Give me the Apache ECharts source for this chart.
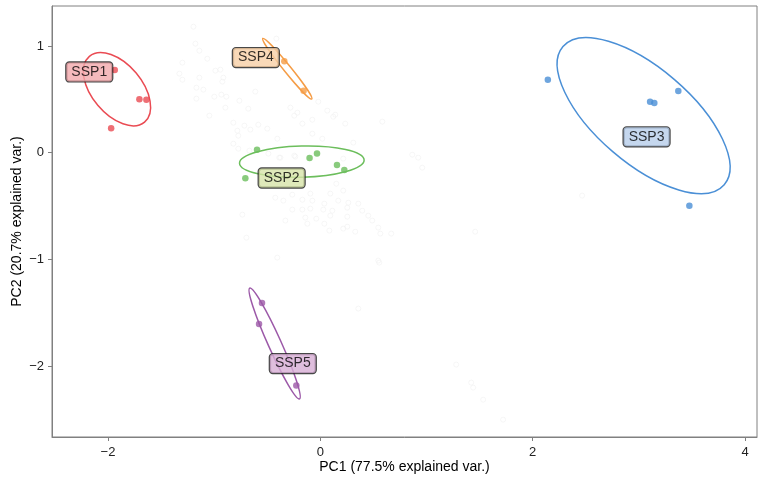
<!DOCTYPE html>
<html>
<head>
<meta charset="utf-8">
<script src="https://cdn.jsdelivr.net/npm/echarts@6/dist/echarts.min.js"></script>
<style>
  html, body { margin: 0; padding: 0; background: #fff; }
  #chart { width: 758px; height: 477px; }
</style>
</head>
<body>
<div id="chart"></div>
<script>
// PCA scores by scenario group (PC1, PC2)
var groups = ['SSP1', 'SSP2', 'SSP3', 'SSP4', 'SSP5'];
var pointColors = ['#ea4b53', '#6cbe5c', '#4a8fd6', '#f59c45', '#9c59a8'];
var labelFills = ['#f2a9ac', '#d7e4a9', '#b6cdea', '#f7cfa6', '#d7aed5'];

var ssp1 = [[-1.936, 0.775], [-1.704, 0.500], [-1.638, 0.497], [-1.970, 0.228]];
var ssp2 = [[-0.596, 0.028], [-0.101, -0.050], [-0.031, -0.007], [0.157, -0.115], [0.226, -0.162], [-0.706, -0.241]];
var ssp3 = [[2.143, 0.684], [3.372, 0.578], [3.106, 0.478], [3.146, 0.466], [3.476, -0.497]];
var ssp4 = [[-0.339, 0.856], [-0.157, 0.581]];
var ssp5 = [[-0.549, -1.409], [-0.577, -1.606], [-0.226, -2.184]];
var groupPoints = [ssp1, ssp2, ssp3, ssp4, ssp5];

// Normal-probability ellipses: centre x, centre y, semi-major, semi-minor, angle (deg)
var ellipses = [
  [-1.915, 0.595, 0.404, 0.235, -50],
  [-0.174, -0.084, 0.587, 0.146, 1.5],
  [3.045, 0.347, 1.000, 0.445, -40.6],
  [-0.311, 0.787, 0.367, 0.033, -51],
  [-0.430, -1.789, 0.572, 0.061, -65.8]
];

// Group label anchors
var labelPos = [[-2.176, 0.757], [-0.364, -0.237], [3.073, 0.148], [-0.607, 0.891], [-0.259, -1.978]];

// Remaining (ungrouped) observations, drawn faintly
var others = [
  [-1.195, 1.181], [-1.176, 1.022], [-1.139, 0.956], [-1.064, 0.881], [-1.299, 0.844],
  [-0.988, 0.769], [-0.941, 0.778], [-1.327, 0.741], [-1.299, 0.684], [-1.139, 0.703],
  [-0.913, 0.703], [-0.922, 0.666], [-1.167, 0.609], [-1.101, 0.591], [-0.612, 0.572],
  [-0.414, 1.069], [-0.998, 0.525], [-0.932, 0.544], [-0.885, 0.525], [-1.167, 0.506],
  [-0.762, 0.487], [-0.894, 0.422], [-0.678, 0.412], [-0.282, 0.422], [-0.216, 0.375],
  [-0.245, 0.347], [-0.019, 0.478], [0.066, 0.394], [0.141, 0.356], [0.122, 0.337],
  [0.235, 0.272], [0.584, 0.291], [-1.045, 0.347], [-0.819, 0.281], [-0.715, 0.253],
  [-0.584, 0.262], [-0.499, 0.225], [-0.781, 0.206], [-0.659, 0.216], [-0.772, 0.159],
  [-0.169, 0.272], [-0.075, 0.309], [-0.075, 0.178], [-0.405, 0.131], [0.019, 0.131],
  [0.311, 0.094], [-0.819, 0.084], [-0.772, 0.037], [-0.668, 0.019], [-0.489, -0.009],
  [-0.245, -0.028], [-0.386, -0.047], [0.216, -0.056], [0.866, -0.019], [0.922, -0.047],
  [0.960, -0.141], [-0.376, -0.047], [-0.235, -0.037], [0.151, -0.291], [-0.094, -0.384],
  [0.094, -0.384], [0.216, -0.356], [-0.264, -0.394], [-0.424, -0.422], [-0.348, -0.450],
  [-0.169, -0.441], [-0.075, -0.450], [0.038, -0.478], [0.169, -0.450], [0.264, -0.469],
  [0.358, -0.478], [0.028, -0.534], [0.113, -0.544], [-0.169, -0.534], [-0.094, -0.525],
  [-0.264, -0.534], [0.254, -0.516], [0.395, -0.544], [0.452, -0.591], [0.489, -0.637],
  [0.094, -0.591], [-0.038, -0.619], [-0.141, -0.609], [0.254, -0.600], [-0.734, -0.581],
  [-0.329, -0.637], [-0.122, -0.666], [0.038, -0.666], [0.254, -0.694], [0.216, -0.712],
  [0.085, -0.731], [0.329, -0.741], [0.546, -0.703], [0.565, -0.759], [0.668, -0.759],
  [-0.696, -0.797], [-0.405, -0.984], [0.546, -1.012], [1.459, -0.741], [0.555, -1.031],
  [0.358, -1.462], [1.280, -1.987], [1.421, -2.156], [1.440, -2.203], [1.534, -2.316],
  [1.722, -2.503], [2.466, -0.403]
];

// Axis ranges and tick labels
var xRange = [-2.527, 4.113];
var yRange = [-2.666, 1.375];
var xTicks = [-2, 0, 2, 4];
var yTicks = [-2, -1, 0, 1];
var xTitle = 'PC1 (77.5% explained var.)';
var yTitle = 'PC2 (20.7% explained var.)';

function fmt(v) {
  return v < 0 ? '\u2212' + Math.abs(v) : String(v);
}

var FONT = 'Liberation Sans, Arial, sans-serif';
var chart = echarts.init(document.getElementById('chart'), null, { renderer: 'canvas' });

var series = [];

series.push({
  type: 'scatter',
  data: others,
  symbol: 'circle',
  symbolSize: 5,
  silent: true,
  itemStyle: { color: 'rgba(255,255,255,0)', borderColor: '#f1f1f1', borderWidth: 0.8 },
  z: 1
});

series.push({
  type: 'custom',
  data: ellipses.map(function (e, i) { return e.concat([i]); }),
  silent: true,
  clip: true,
  renderItem: function (params, api) {
    var c = api.coord([api.value(0), api.value(1)]);
    var s = api.size([api.value(2), api.value(3)]);
    var gi = api.value(5);
    return {
      type: 'ellipse',
      x: c[0],
      y: c[1],
      rotation: api.value(4) * Math.PI / 180,
      shape: { cx: 0, cy: 0, rx: s[0], ry: s[1] },
      style: { fill: null, stroke: pointColors[gi], lineWidth: 1.5 }
    };
  },
  z: 2
});

groups.forEach(function (g, i) {
  series.push({
    type: 'scatter',
    name: g,
    data: groupPoints[i],
    symbol: 'circle',
    symbolSize: 6.5,
    itemStyle: { color: pointColors[i] },
    silent: true,
    z: 3
  });
});

series.push({
  type: 'scatter',
  data: labelPos.map(function (p, i) {
    return {
      value: p,
      name: groups[i],
      label: { backgroundColor: labelFills[i] }
    };
  }),
  symbolSize: 0,
  silent: true,
  z: 5,
  label: {
    show: true,
    position: 'inside',
    formatter: '{b}',
    fontFamily: FONT,
    fontSize: 14,
    color: '#000',
    borderColor: '#1a1a1a',
    borderWidth: 1.2,
    borderRadius: 3,
    padding: [3, 5, 2, 5]
  }
});

chart.setOption({
  animation: false,
  backgroundColor: '#ffffff',
  grid: {
    left: 52, right: 1, top: 6, bottom: 40,
    outerBoundsMode: 'none',
    containLabel: false,
    show: true, borderColor: '#808080', borderWidth: 1, backgroundColor: 'transparent'
  },
  xAxis: {
    type: 'value',
    min: xRange[0], max: xRange[1],
    name: xTitle,
    nameLocation: 'middle',
    nameGap: 23,
    nameMoveOverlap: false,
    nameTextStyle: { fontFamily: FONT, fontSize: 14, color: '#000' },
    axisLine: { show: true, onZero: false, lineStyle: { color: '#808080', width: 1 } },
    axisTick: { show: true, length: 4, lineStyle: { color: '#808080' }, customValues: xTicks },
    axisLabel: {
      fontFamily: FONT, fontSize: 13, color: '#222', margin: 9,
      customValues: xTicks, formatter: fmt
    },
    splitLine: { show: false }
  },
  yAxis: {
    type: 'value',
    min: yRange[0], max: yRange[1],
    name: yTitle,
    nameLocation: 'middle',
    nameGap: 28,
    nameMoveOverlap: false,
    nameTextStyle: { fontFamily: FONT, fontSize: 14, color: '#000' },
    axisLine: { show: true, onZero: false, lineStyle: { color: '#808080', width: 1 } },
    axisTick: { show: true, length: 4, lineStyle: { color: '#808080' }, customValues: yTicks },
    axisLabel: {
      fontFamily: FONT, fontSize: 13, color: '#222', margin: 8,
      customValues: yTicks, formatter: fmt
    },
    splitLine: { show: false }
  },
  series: series
});
</script>
</body>
</html>
